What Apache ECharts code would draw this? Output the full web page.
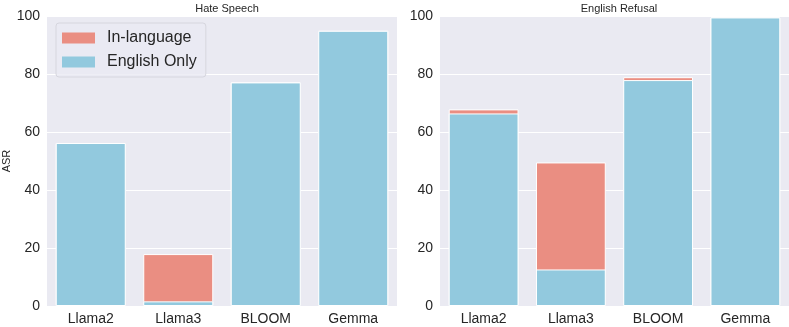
<!DOCTYPE html>
<html><head><meta charset="utf-8">
<script src="https://cdn.jsdelivr.net/npm/echarts@6/dist/echarts.min.js"></script>
<style>html,body{margin:0;padding:0;background:#fff}#c{width:789px;height:327px}</style>
</head><body><div id="c"></div>
<script>
var categories = ['Llama2', 'Llama3', 'BLOOM', 'Gemma'];
var hateInLanguage = [56.2, 17.9, 77.1, 94.9];
var hateEnglishOnly = [56.2, 1.6, 77.1, 94.9];
var refusalInLanguage = [67.8, 49.5, 78.9, 99.5];
var refusalEnglishOnly = [66.4, 12.6, 77.9, 99.5];
var yTicks = {min: 0, max: 100, interval: 20};

var FONT = 'Liberation Sans, Arial, sans-serif';
var C_IN = '#EA8E82', C_EN = '#92C9DE';
var chart = echarts.init(document.getElementById('c'), null, {renderer: 'canvas'});

function xAxis(i) {
  return {type: 'category', gridIndex: i, data: categories,
    axisLine: {show: false}, axisTick: {show: false}, splitLine: {show: false},
    axisLabel: {fontFamily: FONT, fontSize: 14, color: '#262626', margin: 6}};
}
function yAxis(i) {
  return {type: 'value', gridIndex: i, min: yTicks.min, max: yTicks.max, interval: yTicks.interval,
    name: i === 0 ? 'ASR' : '', nameLocation: 'middle', nameGap: 34,
    nameTextStyle: {fontFamily: FONT, fontSize: 11, color: '#262626'},
    axisLine: {show: false}, axisTick: {show: false},
    splitLine: {show: true, lineStyle: {color: '#ffffff', width: 1}},
    axisLabel: {fontFamily: FONT, fontSize: 14, color: '#262626', margin: 7}};
}
function bar(name, data, color, i) {
  return {name: name, type: 'bar', xAxisIndex: i, yAxisIndex: i, data: data,
    barGap: '-100%', barCategoryGap: '20%',
    itemStyle: {color: color, borderColor: '#ffffff', borderWidth: 1},
    emphasis: {disabled: true}, animation: false};
}

chart.setOption({
  animation: false,
  title: [
    {text: 'Hate Speech', left: 222, top: -2, textAlign: 'center',
      textStyle: {fontFamily: FONT, fontSize: 11, fontWeight: 'normal', color: '#262626'}},
    {text: 'English Refusal', left: 614, top: -2, textAlign: 'center',
      textStyle: {fontFamily: FONT, fontSize: 11, fontWeight: 'normal', color: '#262626'}}
  ],
  legend: {
    data: ['In-language', 'English Only'], orient: 'vertical', left: 56, top: 23,
    icon: 'rect', itemWidth: 33, itemHeight: 11, itemGap: 8, padding: [7, 9, 7, 6],
    backgroundColor: 'rgba(234,234,242,0.8)', borderColor: '#d6d6de', borderWidth: 1, borderRadius: 3,
    textStyle: {fontFamily: FONT, fontSize: 16, color: '#262626', padding: [0, 0, 0, 7]},
    itemStyle: {borderWidth: 0},
    selectedMode: false
  },
  grid: [
    {left: 47, right: 392, top: 16, bottom: 21, show: true, backgroundColor: '#EAEAF2', borderWidth: 0},
    {left: 440, right: 0, top: 16, bottom: 21, show: true, backgroundColor: '#EAEAF2', borderWidth: 0}
  ],
  xAxis: [xAxis(0), xAxis(1)],
  yAxis: [yAxis(0), yAxis(1)],
  series: [
    bar('In-language', hateInLanguage, C_IN, 0),
    bar('English Only', hateEnglishOnly, C_EN, 0),
    bar('In-language', refusalInLanguage, C_IN, 1),
    bar('English Only', refusalEnglishOnly, C_EN, 1)
  ]
});
</script></body></html>
